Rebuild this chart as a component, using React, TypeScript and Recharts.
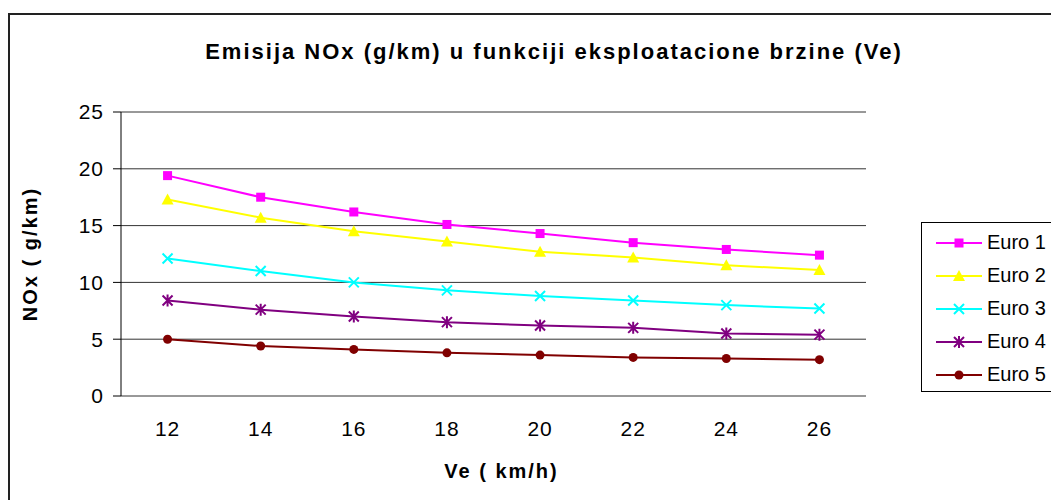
import React from "react";
import {
  LineChart,
  Line,
  XAxis,
  YAxis,
  CartesianGrid,
  Legend,
  Label,
} from "recharts";

const SPEEDS = [12, 14, 16, 18, 20, 22, 24, 26];
const EURO_1 = [19.4, 17.5, 16.2, 15.1, 14.3, 13.5, 12.9, 12.4];
const EURO_2 = [17.3, 15.7, 14.5, 13.6, 12.7, 12.2, 11.5, 11.1];
const EURO_3 = [12.1, 11.0, 10.0, 9.3, 8.8, 8.4, 8.0, 7.7];
const EURO_4 = [8.4, 7.6, 7.0, 6.5, 6.2, 6.0, 5.5, 5.4];
const EURO_5 = [5.0, 4.4, 4.1, 3.8, 3.6, 3.4, 3.3, 3.2];

const Y_TICKS = [0, 5, 10, 15, 20, 25];
// category boundaries, where Excel puts the x tick marks
const X_EDGES = [11, 13, 15, 17, 19, 21, 23, 25, 27];

const FONT = "'Liberation Sans', Arial, sans-serif";

const SERIES = [
  { key: "e1", name: "Euro 1", color: "#ff00ff", shape: "square" },
  { key: "e2", name: "Euro 2", color: "#ffff00", shape: "triangle" },
  { key: "e3", name: "Euro 3", color: "#00ffff", shape: "cross" },
  { key: "e4", name: "Euro 4", color: "#800080", shape: "star" },
  { key: "e5", name: "Euro 5", color: "#800000", shape: "circle" },
];

const data = SPEEDS.map((ve, i) => ({
  ve,
  e1: EURO_1[i],
  e2: EURO_2[i],
  e3: EURO_3[i],
  e4: EURO_4[i],
  e5: EURO_5[i],
}));

function Marker({ shape, cx, cy, color }: { shape: string; cx: number; cy: number; color: string }) {
  if (cx == null || cy == null) return null;
  switch (shape) {
    case "square":
      return <rect x={cx - 4.5} y={cy - 4.5} width={9} height={9} fill={color} />;
    case "triangle":
      return (
        <polygon
          points={`${cx},${cy - 6} ${cx + 6},${cy + 5} ${cx - 6},${cy + 5}`}
          fill={color}
        />
      );
    case "cross":
      return (
        <path
          d={`M${cx - 5},${cy - 5}L${cx + 5},${cy + 5}M${cx - 5},${cy + 5}L${cx + 5},${cy - 5}`}
          stroke={color}
          strokeWidth={2}
        />
      );
    case "star":
      return (
        <path
          d={`M${cx - 5},${cy - 5}L${cx + 5},${cy + 5}M${cx - 5},${cy + 5}L${cx + 5},${cy - 5}M${cx},${cy - 6}L${cx},${cy + 6}`}
          stroke={color}
          strokeWidth={2}
        />
      );
    default:
      return <circle cx={cx} cy={cy} r={4.5} fill={color} />;
  }
}

function LegendBox() {
  return (
    <div
      style={{
        width: 135,
        height: 170,
        border: "1px solid #000",
        boxSizing: "border-box",
        background: "#fff",
        paddingTop: 3,
      }}
    >
      {SERIES.map((s) => (
        <div
          key={s.key}
          style={{ display: "flex", alignItems: "center", height: 33 }}
        >
          <svg width={60} height={16} style={{ display: "block" }}>
            <line x1={14} y1={8} x2={60} y2={8} stroke={s.color} strokeWidth={2} />
            <Marker shape={s.shape} cx={37} cy={8} color={s.color} />
          </svg>
          <span style={{ marginLeft: 5, fontSize: 20, color: "#000" }}>{s.name}</span>
        </div>
      ))}
    </div>
  );
}

export default function App() {
  return (
    <div
      style={{
        position: "relative",
        width: 1051,
        height: 492,
        overflow: "hidden",
        fontFamily: FONT,
        background: "#fff",
      }}
    >
      <div
        style={{
          position: "absolute",
          left: 0,
          top: 5,
          width: 1100,
          height: 600,
          borderLeft: "2px solid #222",
          borderTop: "2px solid #222",
        }}
      />
      <div
        style={{
          position: "absolute",
          left: 0,
          width: 1092,
          top: 31,
          textAlign: "center",
          fontSize: 22,
          fontWeight: "bold",
          letterSpacing: 2,
          color: "#000",
        }}
      >
        Emisija NOx (g/km) u funkciji eksploatacione brzine (Ve)
      </div>
      <LineChart
        width={1051}
        height={492}
        data={data}
        margin={{ top: 104, right: 193, bottom: 64, left: 53 }}
        style={{ position: "absolute", left: 0, top: 0 }}
      >
        <CartesianGrid
          horizontal
          vertical={false}
          stroke="#333"
          strokeWidth={1}
          xAxisId="main"
        />
        <XAxis
          xAxisId="edges"
          type="number"
          dataKey="ve"
          domain={[11, 27]}
          ticks={X_EDGES}
          tickFormatter={() => ""}
          height={0}
          tickSize={8}
          tickLine={{ stroke: "#000" }}
          axisLine={{ stroke: "#000" }}
        />
        <XAxis
          xAxisId="main"
          type="number"
          dataKey="ve"
          domain={[11, 27]}
          ticks={SPEEDS}
          axisLine={false}
          tickLine={false}
          tickSize={0}
          tickMargin={25}
          height={40}
          tick={{ fill: "#000", fontSize: 21, letterSpacing: 1, fontFamily: FONT }}
        >
          <Label
            content={({ viewBox }: any) => (
              <text
                x={viewBox.x + viewBox.width / 2 + 8}
                y={viewBox.y + 82}
                textAnchor="middle"
                fontSize={20}
                fontWeight="bold"
                letterSpacing={2}
                fontFamily={FONT}
                fill="#000"
              >
                Ve ( km/h)
              </text>
            )}
          />
        </XAxis>
        <YAxis
          domain={[0, 25]}
          ticks={Y_TICKS}
          width={60}
          tickSize={8}
          tickMargin={9}
          axisLine={{ stroke: "#000" }}
          tickLine={{ stroke: "#000" }}
          tick={{ fill: "#000", fontSize: 21, letterSpacing: 1, fontFamily: FONT }}
        >
          <Label
            content={({ viewBox }: any) => {
              const x = viewBox.x - 31;
              const y = viewBox.y + viewBox.height / 2;
              return (
                <text
                  x={x}
                  y={y}
                  transform={`rotate(-90, ${x}, ${y})`}
                  textAnchor="middle"
                  dominantBaseline="central"
                  fontSize={20}
                  fontWeight="bold"
                  letterSpacing={2}
                  fontFamily={FONT}
                  fill="#000"
                >
                  NOx ( g/km)
                </text>
              );
            }}
          />
        </YAxis>
        <YAxis
          yAxisId="frame"
          orientation="right"
          domain={[0, 25]}
          width={0}
          tick={false}
          tickLine={false}
          axisLine={{ stroke: "#888" }}
        />
        <Legend
          layout="vertical"
          align="center"
          verticalAlign="middle"
          content={() => <LegendBox />}
          wrapperStyle={{ left: 913, top: 214, width: 135, height: 170 }}
        />
        {SERIES.map((s) => (
          <Line
            key={s.key}
            xAxisId="main"
            dataKey={s.key}
            name={s.name}
            stroke={s.color}
            strokeWidth={2}
            isAnimationActive={false}
            dot={(p: any) => (
              <Marker key={p.index} shape={s.shape} cx={p.cx} cy={p.cy} color={s.color} />
            )}
            activeDot={false}
          />
        ))}
      </LineChart>
    </div>
  );
}
